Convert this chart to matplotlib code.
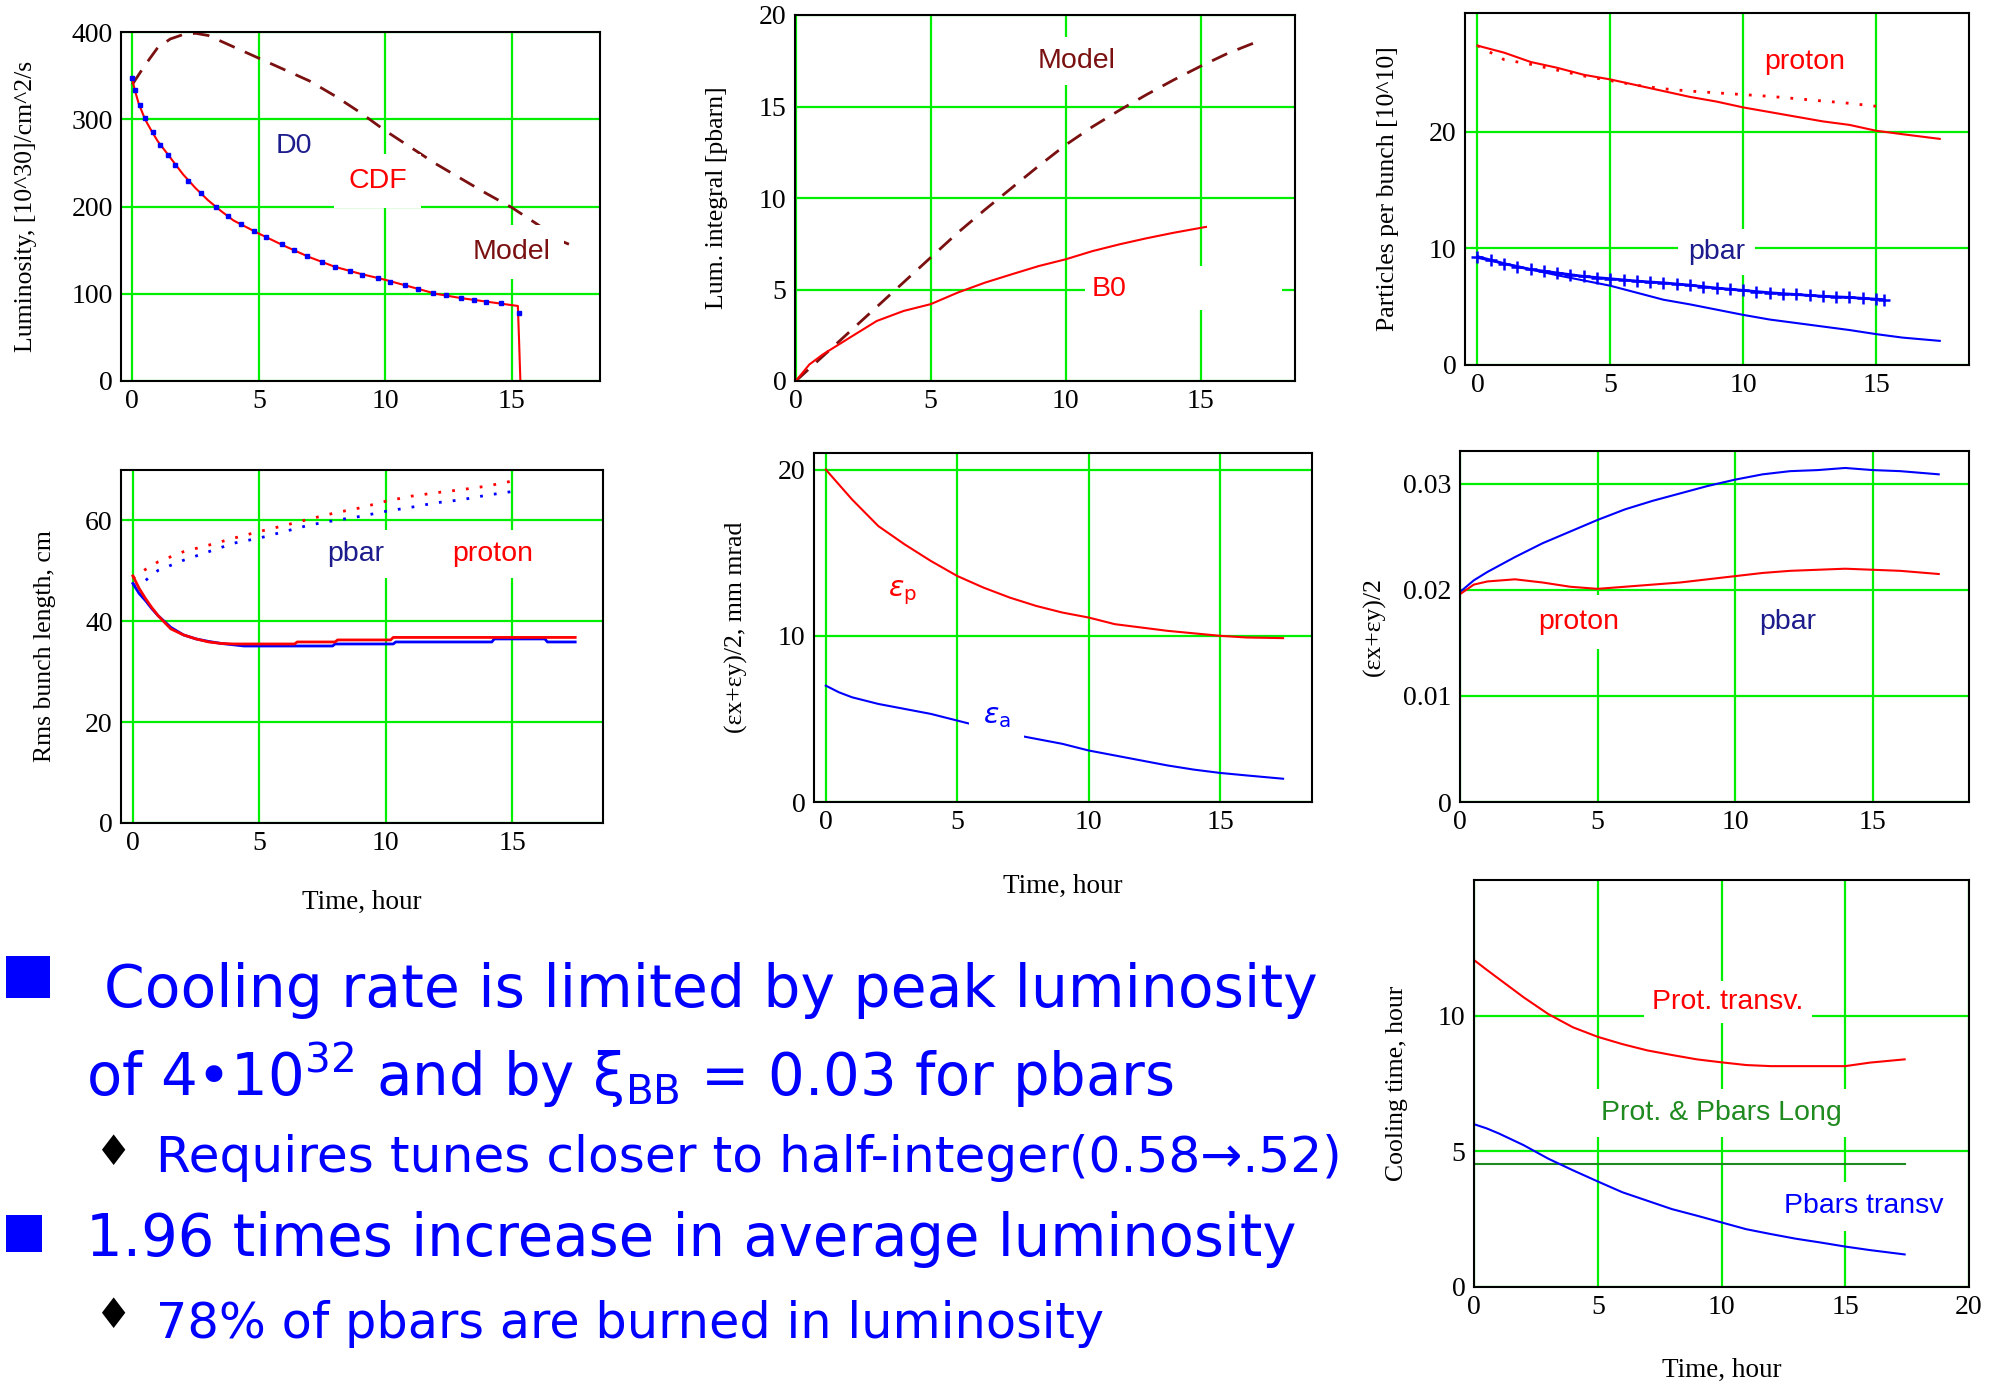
import matplotlib
matplotlib.use("Agg")
import matplotlib.pyplot as plt
from matplotlib import font_manager
from matplotlib.patches import Rectangle

# ---- panel 1: luminosity vs time
lum_t = [0, 0.1, 0.25, 0.5, 0.75, 1, 1.5, 2, 2.5, 3, 3.5, 4, 5, 6, 7, 8, 9, 10, 11, 12, 13, 14, 15, 15.25, 15.3, 15.35]
lum_cdf = [345, 333, 318, 300, 287, 275, 256, 237, 221, 207, 195, 184, 169, 155, 142, 131, 123, 116, 108, 100, 95, 91, 87, 86, 45, 0]
d0_t = [0, 0.1, 0.3, 0.5, 0.8, 1.1, 1.4, 1.7, 2.2, 2.7, 3.3, 3.8, 4.3, 4.8, 5.3, 5.9, 6.4, 6.9, 7.5, 8.0, 8.6,
        9.1, 9.7, 10.2, 10.8, 11.3, 11.9, 12.4, 13.0, 13.5, 14.0, 14.6, 15.3]
lum_d0 = [347, 333, 316, 301, 285, 271, 259, 248, 229, 215, 200, 189, 180, 172, 165, 157, 150, 143, 136, 131, 126,
          122, 118, 114, 110, 106, 101, 98, 95, 93, 91, 89, 78]
model_t = [0, 0.5, 1, 1.5, 2, 2.5, 3, 4, 5, 6, 7, 8, 9, 10, 11, 12, 13, 14, 15, 16, 17, 17.5]
lum_model = [340, 362, 382, 392, 397, 398.5, 396, 383, 370, 357, 344, 327, 308, 287, 268, 249, 232, 215, 199, 180, 160, 154]

# ---- panel 2: luminosity integral
int_model_t = [0, 1, 2, 3, 4, 5, 6, 7, 8, 9, 10, 11, 12, 13, 14, 15, 16, 17.2]
int_model = [0, 1.35, 2.7, 4.05, 5.4, 6.75, 8.1, 9.35, 10.55, 11.75, 12.9, 13.9, 14.8, 15.65, 16.45, 17.2, 17.9, 18.6]
b0_t = [0, 0.5, 1, 2, 3, 4, 5, 6, 7, 8, 9, 10, 11, 12, 13, 14, 15.2]
int_b0 = [0, 0.9, 1.45, 2.37, 3.28, 3.83, 4.2, 4.83, 5.37, 5.83, 6.28, 6.65, 7.1, 7.47, 7.8, 8.1, 8.42]

# ---- panel 3: particles per bunch
ppb_t = [0, 1, 2, 3, 4, 5, 6, 7, 8, 9, 10, 11, 12, 13, 14, 15, 16, 17.4]
proton_n = [27.4, 26.8, 26.0, 25.5, 24.9, 24.5, 24.0, 23.5, 23.0, 22.6, 22.1, 21.7, 21.3, 20.9, 20.6, 20.1, 19.8, 19.4]
pbar_n = [9.2, 8.7, 8.2, 7.7, 7.25, 6.8, 6.2, 5.6, 5.2, 4.75, 4.3, 3.9, 3.6, 3.3, 3.0, 2.65, 2.35, 2.07]
proton_dot_t = [0, 1, 2, 3, 4, 5, 6, 7, 8, 9, 10, 11, 12, 13, 14, 15]
proton_dot = [27.4, 26.2, 25.8, 25.3, 24.8, 24.4, 24.0, 23.7, 23.5, 23.35, 23.2, 23.05, 22.85, 22.65, 22.45, 22.2]
pbar_data_t = [0, 0.5, 1, 1.5, 2, 2.5, 3, 3.5, 4, 4.5, 5, 5.5, 6, 6.5, 7, 7.5, 8, 8.5, 9, 9.5, 10,
               10.5, 11, 11.5, 12, 12.5, 13, 13.5, 14, 14.5, 15, 15.3]
pbar_data = [9.3, 9.0, 8.7, 8.45, 8.2, 8.05, 7.9, 7.75, 7.6, 7.5, 7.4, 7.3, 7.2, 7.12, 7.05, 6.95, 6.85, 6.72, 6.6,
             6.5, 6.4, 6.3, 6.2, 6.12, 6.05, 5.97, 5.9, 5.85, 5.8, 5.72, 5.65, 5.6]

# ---- panel 4: rms bunch length
bl_dot_t = [0, 0.5, 1, 2, 3, 4, 5, 6, 7, 8, 9, 10, 11, 12, 13, 14, 15.1]
proton_bl_dot = [48.5, 50.3, 51.8, 53.8, 55.1, 56.5, 57.8, 59.0, 60.3, 61.5, 62.5, 63.8, 64.8, 65.5, 66.1, 66.8, 67.9]
pbar_bl_dot = [47.1, 48.1, 50.1, 52.1, 53.8, 55.5, 56.5, 57.8, 59.1, 60.0, 60.8, 61.8, 62.6, 63.5, 64.1, 65.0, 65.8]
proton_bl_t = [0, 0.25, 0.5, 0.75, 1, 1.5, 2, 2.5, 3, 3.5, 4, 6.4, 6.5, 8, 8.1, 10.2, 10.3, 17.5]
proton_bl = [49, 46.5, 44.5, 42.7, 41.1, 38.5, 37.3, 36.5, 35.9, 35.6, 35.5, 35.5, 35.9, 35.9, 36.3, 36.3, 36.8, 36.8]
pbar_bl_t = [0, 0.25, 0.5, 0.75, 1, 1.5, 2, 2.5, 3, 3.5, 4.4, 7.9, 8.0, 10.3, 10.4, 14.2, 14.3, 16.3, 16.4, 17.5]
pbar_bl = [47.5, 45.5, 44.1, 42.5, 41.1, 38.8, 37.3, 36.5, 36.0, 35.6, 35.1, 35.1, 35.5, 35.5, 35.9, 35.9, 36.5, 36.5,
           35.9, 35.9]

# ---- panel 5: emittances
eps_p_t = [0, 0.5, 1, 1.5, 2, 3, 4, 5, 6, 7, 8, 9, 10, 11, 12, 13, 14, 15, 16, 17.4]
eps_p = [20.0, 19.1, 18.2, 17.4, 16.6, 15.5, 14.5, 13.6, 12.9, 12.3, 11.8, 11.4, 11.1, 10.7, 10.5, 10.3, 10.15, 10.0,
         9.9, 9.86]
eps_a_t = [0, 0.5, 1, 2, 3, 4, 5, 6, 7, 8, 9, 10, 11, 12, 13, 14, 15, 16, 17.4]
eps_a = [7.0, 6.6, 6.3, 5.9, 5.6, 5.3, 4.9, 4.5, 4.1, 3.8, 3.5, 3.1, 2.8, 2.5, 2.2, 1.95, 1.75, 1.6, 1.4]

# ---- panel 6: beam-beam parameter
xi_t = [0, 0.5, 1, 2, 3, 4, 5, 6, 7, 8, 9, 10, 11, 12, 13, 14, 15, 16, 17.4]
pbar_xi = [0.0198, 0.0209, 0.0217, 0.0231, 0.0244, 0.0255, 0.0266, 0.0276, 0.0284, 0.0291, 0.0298, 0.0304,
           0.0309, 0.0312, 0.0313, 0.0315, 0.0313, 0.0312, 0.0309]
proton_xi = [0.0196, 0.0205, 0.0208, 0.0210, 0.0207, 0.0203, 0.0201, 0.0203, 0.0205, 0.0207, 0.0210, 0.0213,
             0.0216, 0.0218, 0.0219, 0.0220, 0.0219, 0.0218, 0.0215]

# ---- panel 7: cooling times
cool_t = [0, 0.5, 1, 2, 3, 4, 5, 6, 7, 8, 9, 10, 11, 12, 13, 14, 15, 16, 17.4]
prot_transv = [12.05, 11.7, 11.36, 10.68, 10.06, 9.57, 9.22, 8.95, 8.72, 8.55, 8.39, 8.28, 8.18, 8.14, 8.14, 8.14,
               8.14, 8.27, 8.39]
pbar_transv = [6.0, 5.85, 5.66, 5.23, 4.73, 4.3, 3.89, 3.49, 3.18, 2.87, 2.63, 2.38, 2.13, 1.95, 1.78, 1.64, 1.49,
               1.36, 1.2]
long_t = [0, 17.4]
long_cool = [4.52, 4.52]

W, H = 1994, 1385
RED, BLUE, NAVY, DRED, GRID = "#ff0000", "#0000ff", "#1c1c8c", "#7a1010", "#00ee00"
SERIF = "Liberation Serif"
SANS = "Liberation Sans"

fig = plt.figure(figsize=(W / 100, H / 100), dpi=100)


def panel(left, top, right, bottom, xlim, ylim, yticks, xticks=(0, 5, 10, 15)):
    ax = fig.add_axes([left / W, 1 - bottom / H, (right - left) / W, (bottom - top) / H])
    ax.set_xlim(*xlim)
    ax.set_ylim(*ylim)
    ax.set_xticks(xticks)
    ax.set_yticks(yticks)
    ax.set_xticklabels(["%g" % v for v in xticks], family=SERIF, fontsize=20)
    ax.set_yticklabels(["%g" % v for v in yticks], family=SERIF, fontsize=20)
    ax.tick_params(length=0, pad=6)
    ax.grid(True, color=GRID, lw=1.6)
    ax.set_axisbelow(True)
    for s in ax.spines.values():
        s.set_linewidth(1.5)
    return ax


def ylab(ax, s, x):
    ax.set_ylabel(s, family=SERIF, fontsize=18.5)
    ax.yaxis.set_label_coords(x, 0.5)


def xlab(ax, y):
    ax.set_xlabel("Time, hour", family=SERIF, fontsize=19.5)
    ax.xaxis.set_label_coords(0.5, y)


def label(ax, x, y, s, color, pad=4, size=20.5):
    ax.text(x, y, s, color=color, family=SANS, fontsize=size, ha="center", va="center", zorder=6,
            bbox=dict(fc="white", ec="none", pad=pad))


dash = (0, (6, 4))
dot = (0, (1, 4))

# panel 1
ax1 = panel(121, 32, 600, 381, (-0.45, 18.5), (0, 400), [0, 100, 200, 300, 400])
ax1.plot(model_t, lum_model, color=DRED, lw=2, ls=dash)
ax1.plot(lum_t, lum_cdf, color=RED, lw=1.5)
ax1.plot(d0_t, lum_d0, ls="none", marker="s", ms=3.5, color=BLUE)
label(ax1, 6.4, 269, "D0", NAVY)
label(ax1, 9.7, 229, "CDF", RED, pad=10)
label(ax1, 15.0, 148, "Model", DRED, pad=10)
ylab(ax1, "Luminosity, [10^30]/cm^2/s", -0.175)

# panel 2
ax2 = panel(795, 15, 1295, 381, (-0.03, 18.5), (0, 20), [0, 5, 10, 15, 20])
ax2.plot(int_model_t, int_model, color=DRED, lw=2, ls=dash)
ax2.plot(b0_t, int_b0, color=RED, lw=1.5)
label(ax2, 10.4, 17.5, "Model", DRED, pad=8)
ax2.add_patch(Rectangle((10.7, 3.9), 7.3, 2.4, fc="white", ec="none", zorder=5))
label(ax2, 11.6, 5.0, "B0", RED, pad=2)
ylab(ax2, "Lum. integral [pbarn]", -0.135)

# panel 3
ax3 = panel(1465, 13, 1969, 365, (-0.47, 18.5), (0, 30.2), [0, 10, 20])
ax3.plot(proton_dot_t, proton_dot, color=RED, lw=2, ls=dot)
ax3.plot(ppb_t, proton_n, color=RED, lw=1.5)
ax3.plot(ppb_t, pbar_n, color=BLUE, lw=1.5)
ax3.plot(pbar_data_t, pbar_data, color=BLUE, lw=2, marker="+", ms=8, mew=1.8)
label(ax3, 12.3, 26.0, "proton", RED)
label(ax3, 9.0, 9.7, "pbar", NAVY, pad=7)
ylab(ax3, "Particles per bunch [10^10]", -0.13)

# panel 4
ax4 = panel(121, 470, 603, 823, (-0.47, 18.6), (0, 70), [0, 20, 40, 60])
ax4.plot(bl_dot_t, proton_bl_dot, color=RED, lw=2, ls=dot)
ax4.plot(bl_dot_t, pbar_bl_dot, color=BLUE, lw=2, ls=dot)
ax4.plot(pbar_bl_t, pbar_bl, color=BLUE, lw=2)
ax4.plot(proton_bl_t, proton_bl, color=RED, lw=2)
label(ax4, 8.8, 53.3, "pbar", NAVY, pad=8)
label(ax4, 14.25, 53.3, "proton", RED, pad=8)
ylab(ax4, "Rms bunch length, cm", -0.135)
xlab(ax4, -0.19)

# panel 5
ax5 = panel(814, 453, 1312, 802, (-0.45, 18.5), (0, 21.0), [0, 10, 20])
ax5.plot(eps_p_t, eps_p, color=RED, lw=1.5)
ax5.plot(eps_a_t, eps_a, color=BLUE, lw=1.5)
label(ax5, 2.9, 12.6, r"$\varepsilon_\mathrm{p}$", RED, pad=8)
label(ax5, 6.5, 5.1, r"$\varepsilon_\mathrm{a}$", BLUE, pad=10)
ylab(ax5, "(εx+εy)/2, mm mrad", -0.132)
xlab(ax5, -0.205)

# panel 6
ax6 = panel(1460, 451, 1969, 802, (0, 18.5), (0, 0.0331), [0, 0.01, 0.02, 0.03])
ax6.plot(xi_t, pbar_xi, color=BLUE, lw=1.5)
ax6.plot(xi_t, proton_xi, color=RED, lw=1.5)
label(ax6, 4.3, 0.0170, "proton", RED, pad=10)
label(ax6, 11.9, 0.0170, "pbar", NAVY, pad=10)
ylab(ax6, "(εx+εy)/2", -0.145)

# panel 7
ax7 = panel(1474, 880, 1969, 1287, (0, 20), (0, 15), [0, 5, 10], xticks=(0, 5, 10, 15, 20))
ax7.plot(cool_t, prot_transv, color=RED, lw=1.5)
ax7.plot(long_t, long_cool, color="#1f8a1f", lw=1.5)
ax7.plot(cool_t, pbar_transv, color=BLUE, lw=1.5)
label(ax7, 10.27, 10.5, "Prot. transv.", RED, pad=6)
label(ax7, 10.0, 6.4, "Prot. & Pbars Long", "#1f8a1f", pad=8)
label(ax7, 15.75, 2.97, "Pbars transv", BLUE, pad=8)
ylab(ax7, "Cooling time, hour", -0.134)
xlab(ax7, -0.175)

# ---- bullet text
names = {f.name for f in font_manager.fontManager.ttflist}
body_font = "Liberation Sans Narrow" if "Liberation Sans Narrow" in names else "DejaVu Sans"

lines = [
    (104, 1007, 1212, "Cooling rate is limited by peak luminosity"),
    (86, 1096, 1087, r"of 4•10$^{32}$ and by ξ$_{\mathrm{BB}}$ = 0.03 for pbars"),
    (156, 1172, 1186, "Requires tunes closer to half-integer(0.58→.52)"),
    (86, 1256, 1211, "1.96 times increase in average luminosity"),
    (156, 1338, 945, "78% of pbars are burned in luminosity"),
]
renderer = fig.canvas.get_renderer()
for x, y, w, s in lines:
    t = fig.text(x / W, 1 - y / H, s, color=BLUE, family=[body_font, "DejaVu Sans"], fontsize=40,
                 ha="left", va="baseline")
    ext = t.get_window_extent(renderer=renderer).width
    t.set_fontsize(40 * w / ext)

fig.add_artist(Rectangle((6 / W, 1 - 998 / H), 44 / W, 42 / H, transform=fig.transFigure, fc=BLUE, ec="none"))
fig.add_artist(Rectangle((6 / W, 1 - 1252 / H), 36 / W, 37 / H, transform=fig.transFigure, fc=BLUE, ec="none"))
for y in (1153, 1316):
    fig.text(114 / W, 1 - y / H, "♦", color="black", family="DejaVu Sans", fontsize=30, ha="center", va="center")

fig.savefig("out.png", dpi=100)
